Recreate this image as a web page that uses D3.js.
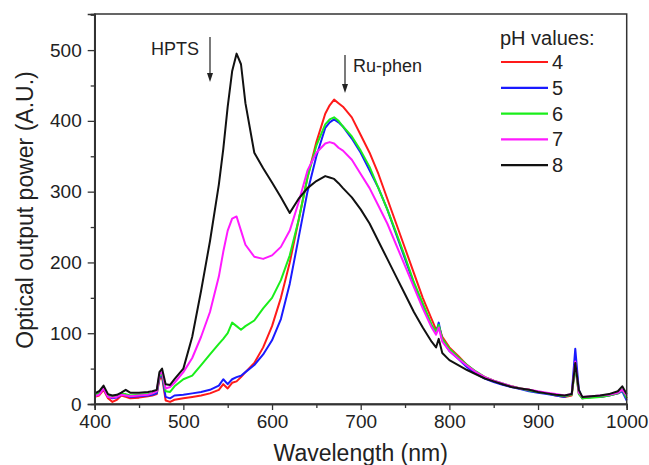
<!DOCTYPE html>
<html><head><meta charset="utf-8">
<script src="https://cdn.jsdelivr.net/npm/d3@7"></script>
<style>
body{margin:0;background:#fff;}
svg{display:block;font-family:"Liberation Sans",Arial,sans-serif;}
</style></head>
<body><svg id="c" width="649" height="465"></svg>
<script>
const wavelength = [400,405,410,415,420,425,430,435,440,450,460,465,470,473,476,480,485,490,500,510,520,530,540,545,550,555,560,565,570,580,590,600,610,620,630,640,650,660,665,670,675,680,690,700,710,720,730,740,750,760,770,780,785,788,792,800,810,820,830,840,850,860,870,880,890,900,910,920,930,938,942,946,950,960,970,980,990,995,1000];
const ph4 = [10,12,20,8,3,6,12,10,8,9,11,12,14,35,38,5,3,6,8,10,12,15,20,28,22,30,32,38,45,58,80,110,150,200,260,320,370,410,422,430,425,420,405,380,355,325,290,255,220,185,150,120,105,110,95,80,68,55,45,38,33,28,25,22,20,17,15,12,10,12,55,15,8,10,10,12,15,20,8];
const ph5 = [12,14,22,10,8,9,13,12,10,11,12,13,15,38,40,10,8,12,13,15,17,20,26,35,28,35,38,40,45,55,70,90,120,170,235,300,350,390,398,402,398,392,375,355,330,305,275,240,205,170,140,110,100,115,90,75,64,52,43,36,31,27,24,21,18,16,14,12,10,14,78,20,8,10,10,12,15,18,5];
const ph6 = [13,15,23,12,10,11,14,14,12,13,14,15,18,40,42,18,17,25,35,40,55,70,85,92,100,115,110,105,110,118,135,150,175,210,260,320,365,395,402,405,400,392,378,358,335,305,275,242,208,172,142,112,102,112,92,78,66,55,46,38,33,29,25,22,19,17,15,13,11,13,52,14,8,9,10,12,15,20,8];
const ph7 = [11,13,22,10,9,10,13,12,11,12,13,15,18,42,45,22,24,30,45,65,95,130,180,215,245,262,265,245,225,208,205,210,222,245,285,330,355,368,370,368,362,358,345,325,305,280,255,225,195,165,135,108,98,108,88,75,64,54,45,38,33,29,25,22,20,18,16,14,12,14,60,16,10,11,12,13,16,20,12];
const ph8 = [15,18,26,14,12,13,16,20,16,16,17,18,20,45,50,28,27,35,50,95,160,230,310,360,420,470,495,480,425,355,333,313,292,270,290,305,315,322,320,318,312,305,292,275,255,230,205,180,155,130,108,88,80,92,72,62,55,48,42,36,32,28,24,22,20,17,15,13,12,14,58,20,10,11,12,14,18,25,14];
const seriesNames = ["4","5","6","7","8"];
const seriesValues = [ph4, ph5, ph6, ph7, ph8];
const seriesColors = ["#ff1a1a","#1a1aff","#1aee1a","#ff1aff","#111111"];
const xTicks = [400,500,600,700,800,900,1000];
const yTicks = [0,100,200,300,400,500];

const svg = d3.select("#c");
const L=94.7, R=626.7, T=14, B=404;
const x = d3.scaleLinear().domain([400,1000]).range([L,R]);
const y = d3.scaleLinear().domain([0,551]).range([B,T]);

// series
const line = d3.line().x((d,i)=>x(wavelength[i])).y(d=>y(d));
seriesValues.forEach((vals,k)=>{
  svg.append("path").datum(vals).attr("d",line)
    .attr("fill","none").attr("stroke",seriesColors[k]).attr("stroke-width",2)
    .attr("stroke-linejoin","round");
});

// frame
svg.append("rect").attr("x",L).attr("y",T).attr("width",R-L).attr("height",B-T)
  .attr("fill","none").attr("stroke","#333").attr("stroke-width",1.5);

// axes
const minorX = d3.range(450,1000,100);
const minorY = d3.range(50,551,100);
svg.append("g").attr("transform",`translate(0,${B})`)
  .call(d3.axisBottom(x).tickValues(xTicks).tickSize(6).tickPadding(5).tickFormat(d3.format("d")));
svg.append("g").attr("transform",`translate(0,${B})`)
  .call(d3.axisBottom(x).tickValues(minorX).tickSize(4).tickFormat(""));
svg.append("g").attr("transform",`translate(${L},0)`)
  .call(d3.axisLeft(y).tickValues(yTicks).tickSize(7).tickPadding(6));
svg.append("g").attr("transform",`translate(${L},0)`)
  .call(d3.axisLeft(y).tickValues(minorY).tickSize(4).tickFormat(""));
svg.selectAll(".domain").attr("stroke","#333").attr("stroke-width",1.5);
svg.selectAll(".tick line").attr("stroke","#333").attr("stroke-width",1.3);
svg.selectAll(".tick text").attr("font-family","Liberation Sans, Arial, sans-serif")
  .attr("font-size",19).attr("fill","#222");

// titles
svg.append("text").attr("x",(L+R)/2).attr("y",461).attr("text-anchor","middle")
  .attr("font-size",23).attr("fill","#222").text("Wavelength (nm)");
svg.append("text").attr("transform",`translate(33,210) rotate(-90)`).attr("text-anchor","middle")
  .attr("font-size",23).attr("fill","#222").text("Optical output power (A.U.)");

// legend
const lg = svg.append("g");
lg.append("text").attr("x",500).attr("y",45).attr("font-size",20).attr("fill","#222").text("pH values:");
seriesNames.forEach((n,k)=>{
  const yy = 62 + k*25.8;
  lg.append("line").attr("x1",501).attr("x2",548).attr("y1",yy).attr("y2",yy)
    .attr("stroke",seriesColors[k]).attr("stroke-width",2.2);
  lg.append("text").attr("x",552).attr("y",yy+7).attr("font-size",20).attr("fill","#222").text(n);
});

// annotations
function arrow(xp, y1, y2){
  svg.append("line").attr("x1",xp).attr("x2",xp).attr("y1",y1).attr("y2",y2-6)
    .attr("stroke","#222").attr("stroke-width",1.2);
  svg.append("path").attr("d",`M${xp-3},${y2-9}L${xp},${y2}L${xp+3},${y2-9}Z`).attr("fill","#222");
}
svg.append("text").attr("x",151).attr("y",55).attr("font-size",18).attr("fill","#222").text("HPTS");
arrow(210,37,82);
svg.append("text").attr("x",353).attr("y",72).attr("font-size",18).attr("fill","#222").text("Ru-phen");
arrow(345,55,93);
</script></body></html>
